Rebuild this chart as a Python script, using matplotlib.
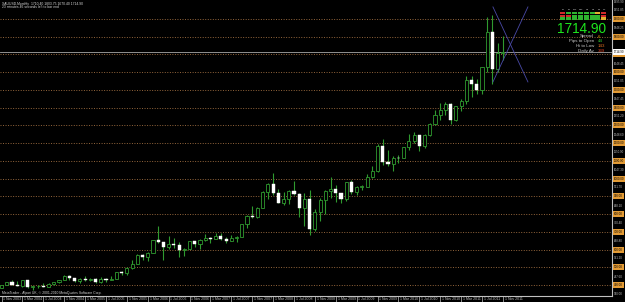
import numpy as np
import matplotlib
matplotlib.use("Agg")
import matplotlib.pyplot as plt
import matplotlib.transforms as mtransforms
from matplotlib.patches import Rectangle

plt.rcParams['font.family'] = ['Liberation Sans', 'DejaVu Sans']

# XAUUSD monthly bars, Nov 2003 .. Nov 2011
opens = [384, 398,
         416, 402, 396, 426, 388, 394, 395, 391, 408, 416, 428, 453,
         438, 422, 435, 428, 436, 417, 436, 429, 433, 473, 470, 495,
         517, 569, 556, 583, 654, 643, 614, 633, 623, 599, 604, 646,
         632, 651, 665, 662, 679, 657, 650, 665, 673, 743, 789, 783,
         834, 923, 972, 916, 864, 885, 928, 912, 833, 884, 718, 814,
         880, 928, 942, 916, 883, 979, 927, 955, 955, 1008, 1040, 1181,
         1096, 1081, 1118, 1115, 1179, 1212, 1244, 1181, 1248, 1308, 1357, 1384,
         1421, 1332, 1410, 1439, 1556, 1536, 1500, 1628, 1828, 1620, 1710.4]
highs = [400, 417,
         427, 420, 428, 427, 395, 399, 410, 414, 418, 430, 455, 457,
         440, 437, 448, 438, 437, 443, 437, 448, 476, 479, 499, 540,
         572, 575, 587, 655, 730, 645, 677, 663, 640, 610, 650, 649,
         660, 690, 672, 694, 693, 673, 682, 675, 745, 795, 848, 842,
         930, 974, 1032, 941, 926, 938, 988, 920, 920, 935, 829, 888,
         934, 1007, 962, 921, 981, 991, 960, 966, 1025, 1070, 1195, 1226,
         1162, 1129, 1135, 1180, 1249, 1265, 1245, 1250, 1315, 1388, 1424, 1431,
         1424, 1411, 1448, 1576, 1577, 1561, 1632, 1913, 1921, 1764, 1803.75]
lows = [381, 398,
        398, 392, 390, 383, 371, 381, 387, 390, 399, 411, 426, 430,
        417, 411, 425, 423, 414, 414, 418, 427, 432, 457, 456, 490,
        517, 541, 535, 582, 635, 542, 605, 610, 560, 561, 604, 612,
        604, 648, 636, 661, 651, 638, 647, 642, 671, 722, 777, 780,
        833, 883, 909, 863, 850, 858, 906, 786, 735, 682, 705, 763,
        801, 889, 866, 865, 876, 915, 905, 933, 952, 1003, 1036, 1075,
        1072, 1044, 1088, 1115, 1162, 1201, 1157, 1175, 1240, 1305, 1331, 1360,
        1308, 1324, 1381, 1418, 1462, 1478, 1478, 1603, 1532, 1600, 1670]
closes = [398, 416,
          402, 396, 426, 388, 394, 395, 391, 408, 416, 428, 453, 438,
          422, 435, 428, 436, 417, 436, 429, 433, 473, 470, 495, 517,
          569, 556, 583, 654, 643, 614, 633, 623, 599, 604, 646, 632,
          651, 665, 662, 679, 657, 650, 665, 673, 743, 789, 783, 834,
          923, 972, 916, 864, 885, 928, 912, 833, 884, 718, 814, 880,
          928, 942, 916, 883, 979, 927, 955, 955, 1008, 1040, 1181, 1096,
          1081, 1118, 1115, 1179, 1212, 1244, 1181, 1248, 1308, 1357, 1384, 1421,
          1332, 1410, 1439, 1556, 1536, 1500, 1628, 1828, 1620, 1710, 1714.9]

date_labels = ['1 Nov 2003', '1 Mar 2004', '1 Jul 2004', '1 Nov 2004', '1 Mar 2005',
               '1 Jul 2005', '1 Nov 2005', '1 Mar 2006', '1 Jul 2006', '1 Nov 2006',
               '1 Mar 2007', '1 Jul 2007', '1 Nov 2007', '1 Mar 2008', '1 Jul 2008',
               '1 Nov 2008', '1 Mar 2009', '1 Jul 2009', '1 Nov 2009', '1 Mar 2010',
               '1 Jul 2010', '1 Nov 2010', '1 Mar 2011', '1 Jul 2011', '1 Nov 2011']
date_pos = [0, 4, 8, 12, 16, 20, 24, 28, 32, 36, 40, 44, 48, 52, 56,
            60, 64, 68, 72, 76, 80, 84, 88, 92, 96]

levels = [400, 500, 600, 700, 800, 900, 1000, 1100, 1200, 1300,
          1400, 1500, 1600, 1700, 1800, 1900]
scale_vals = [1995.90, 1951.85, 1848.25, 1648.45, 1551.05, 1447.45, 1351.20, 1248.60,
              1150.90, 1047.30, 951.70, 848.10, 750.40, 648.80, 551.20, 447.60, 350.00]
price = 1714.90
cross_x = [94.1, 100.8]
cross_a = [1968, 1545]
cross_b = [1545, 1968]

info_names = ['Spread', 'Pips to Open', 'Hi to Low', 'Daily Av']
info_vals = ['6', '44', '143', '339']
info_cols = ['#e8a000', '#30c030', '#e07020', '#e04020']

tf_cols = ['M1', 'M5', 'M15', 'M30', 'H1', 'H4', 'D1', 'W1']
grid_colors = [['#d02a2a', '#2fb52f', '#2fb52f', '#2fb52f', '#2fb52f', '#2fb52f', '#e0b030', '#d02a2a'],
               ['#d02a2a', '#d02a2a', '#2fb52f', '#2fb52f', '#2fb52f', '#2fb52f', '#2fb52f', '#d02a2a'],
               ['#2fb52f', '#2fb52f', '#2fb52f', '#2fb52f', '#2fb52f', '#2fb52f', '#2fb52f', '#e0b030']]

GREEN = '#2f9a2f'
GREY = '#c0c0c0'

fig = plt.figure(figsize=(6.25, 3.02), dpi=100, facecolor='black')
ax = fig.add_axes([0, 6 / 302, 612 / 625, 296 / 302], facecolor='black')
ax.set_xlim(-0.3, 116.9)
ax.set_ylim(338, 2007)

o = np.array(opens, float)
h = np.array(highs, float)
l = np.array(lows, float)
c = np.array(closes, float)
x = np.arange(len(o))
up = c >= o

# levels + last price
for lv in levels:
    ax.axhline(lv, color='#94663c', lw=0.7, ls=(0, (1, 1.6)), zorder=1)
ax.axhline(price, color='#a8a8a8', lw=0.6, zorder=1)

# candles
ax.vlines(x, l, h, color=GREEN, lw=0.8, zorder=2)
body_lo = np.minimum(o, c)
body_h = np.maximum(np.abs(c - o), 1.5)
ax.bar(x[up], body_h[up], bottom=body_lo[up], width=0.6,
       facecolor='black', edgecolor=GREEN, lw=0.6, zorder=3)
ax.bar(x[~up], body_h[~up], bottom=body_lo[~up], width=0.6,
       facecolor='white', edgecolor='white', lw=0.3, zorder=3)

# drawn cross
ax.plot(cross_x, cross_a, color='#4a4aa8', lw=0.6, zorder=4)
ax.plot(cross_x, cross_b, color='#4a4aa8', lw=0.6, zorder=4)

# frame
for s in ['top', 'left']:
    ax.spines[s].set_visible(False)
for s in ['right', 'bottom']:
    ax.spines[s].set_color(GREY)
    ax.spines[s].set_linewidth(0.8)
ax.set_yticks([])
ax.set_xticks(date_pos, [''] * len(date_pos))
ax.tick_params(axis='x', direction='out', length=6, width=0.5, color=GREY)

tb = mtransforms.blended_transform_factory(ax.transData, ax.transAxes)
for p, lab in zip(date_pos, date_labels):
    ax.text(p + 0.35, -0.004, lab, transform=tb, ha='left', va='top',
            fontsize=2.5, color=GREY, clip_on=False)

tr = mtransforms.blended_transform_factory(ax.transAxes, ax.transData)
for v in scale_vals:
    ax.text(1.003, v, f'{v:.2f}', transform=tr, ha='left', va='center',
            fontsize=2.1, color=GREY, clip_on=False)
for lv in levels:
    ax.text(1.003, lv, f'{lv:.2f}', transform=tr, ha='left', va='center',
            fontsize=2.1, color='black', clip_on=False,
            bbox=dict(boxstyle='square,pad=0.35', fc='#e39b35', ec='none'))
ax.text(1.003, price, f'{price:.2f}', transform=tr, ha='left', va='center',
        fontsize=2.1, color='black', clip_on=False,
        bbox=dict(boxstyle='square,pad=0.35', fc='white', ec='none'))


def fx(px):
    return px / 625


def fy(py):
    return 1 - py / 302


# header + footer
fig.text(fx(2), fy(4.5), 'XAUUSD,Monthly  1710.40 1803.75 1670.40 1714.90',
         fontsize=2.4, color='#d8d8d8')
fig.text(fx(2), fy(8.5), '23 minutes 46 seconds left to bar end',
         fontsize=2.4, color='#d8d8d8')
fig.text(fx(2), fy(294), 'MetaTrader - Alpari UK, \u00a9 2001-2010 MetaQuotes Software Corp.',
         fontsize=2.4, color='#d8d8d8')

# info panel
for j, name in enumerate(tf_cols):
    fig.text(fx(561 + j * 5.9 + 2.5), fy(10.5), name, fontsize=1.6, color='#d8d8d8', ha='center')
for r, row in enumerate(grid_colors):
    for j, col in enumerate(row):
        fig.patches.append(Rectangle((fx(560 + j * 5.9), fy(14.2 + r * 2.8)), 5.0 / 625, 2.4 / 302,
                                     transform=fig.transFigure, fc=col, ec='none'))
fig.text(fx(557), fy(33), f'{price:.2f}', fontsize=9.8, color='#1ee61e', ha='left')
for k, (nm, vl, cl) in enumerate(zip(info_names, info_vals, info_cols)):
    fig.text(fx(594), fy(37.5 + k * 4.8), nm, fontsize=3.2, color='#c8c8c8', ha='right')
    fig.text(fx(598), fy(37.5 + k * 4.8), vl, fontsize=3.2, color=cl, ha='left')

fig.savefig('out.png', dpi=100, facecolor='black')
